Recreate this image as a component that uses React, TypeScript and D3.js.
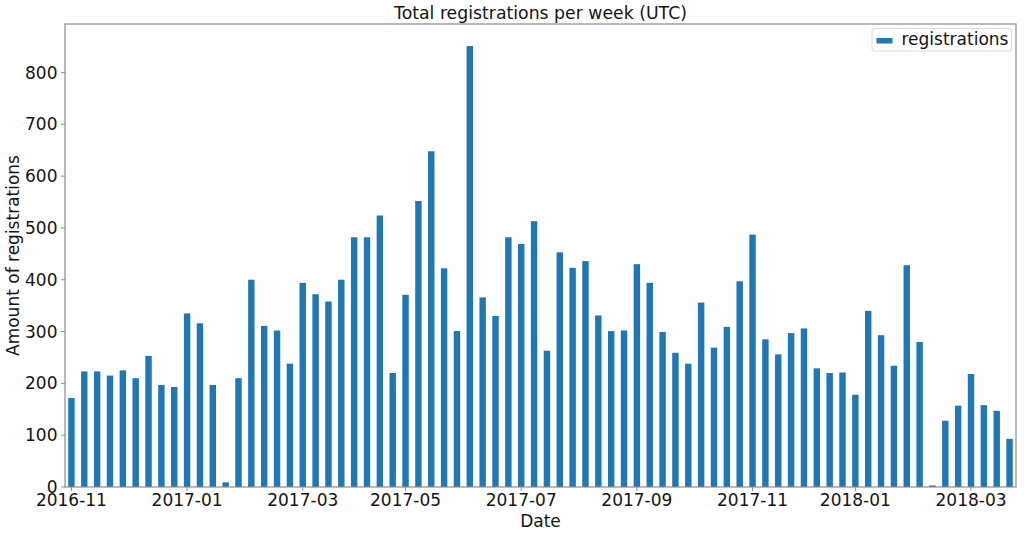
import React from "react";
import * as d3 from "d3";

const firstWeek = "2016-11-01";
const registrations = [
  172, 223, 223, 215, 225, 210, 253, 197, 193, 335, 316, 197, 9, 210, 400, 311,
  302, 238, 394, 372, 358, 400, 482, 482, 524, 220, 371, 552, 648, 422, 301, 851,
  366, 330, 482, 469, 513, 263, 453, 423, 436, 331, 301, 302, 430, 394, 299, 259,
  238, 356, 269, 309, 397, 487, 285, 256, 297, 306, 229, 220, 221, 178, 340, 293,
  234, 428, 280, 3, 128, 157, 218, 158, 147, 93,
];
const tickLabels = ["2016-11", "2017-01", "2017-03", "2017-05", "2017-07", "2017-09", "2017-11", "2018-01", "2018-03"];
const yTicks = [0, 100, 200, 300, 400, 500, 600, 700, 800];
const title = "Total registrations per week (UTC)";
const xLabel = "Date";
const yLabel = "Amount of registrations";
const seriesName = "registrations";

const W = 1024;
const H = 535;
const M = { left: 65, right: 1016, top: 24, bottom: 487 };
const FONT = "DejaVu Sans";
const BLUE = "#1f77b4";
const SPINE = "#8c8c8c";
const TXT = "#141414";

export default function App() {
  const start = d3.utcParse("%Y-%m-%d")(firstWeek) as Date;
  const weeks = registrations.map((_, i) => d3.utcDay.offset(start, 7 * i));
  const fmt = d3.utcFormat("%Y-%m");
  const idx = d3.range(registrations.length);

  const x = d3.scaleBand<number>().domain(idx).range([M.left, M.right]).paddingInner(0.5).paddingOuter(0.25);
  const y = d3.scaleLinear().domain([0, d3.max(registrations)! * 1.05]).range([M.bottom, M.top]);

  const ticks = tickLabels.map((lab) => {
    const i = weeks.findIndex((d) => fmt(d) === lab);
    return { lab, cx: x(i)! + x.bandwidth() / 2 };
  });

  return (
    <svg width={W} height={H} style={{ position: "absolute", left: 0, top: 0, background: "#fff" }} fontFamily={FONT}>
      <rect x={0} y={0} width={W} height={H} fill="#fff" />
      {registrations.map((v, i) => (
        <rect key={i} x={x(i)} y={y(v)} width={x.bandwidth()} height={y(0) - y(v)} fill={BLUE} />
      ))}
      <rect x={M.left} y={M.top} width={M.right - M.left} height={M.bottom - M.top} fill="none" stroke={SPINE} strokeWidth={1.2} />
      {yTicks.map((t) => (
        <g key={t}>
          <line x1={M.left - 4} x2={M.left} y1={y(t)} y2={y(t)} stroke={SPINE} strokeWidth={1} />
          <text x={M.left - 7.5} y={y(t)} dy="0.36em" textAnchor="end" fontSize={17} fill={TXT}>{t}</text>
        </g>
      ))}
      {ticks.map((t) => (
        <g key={t.lab}>
          <line x1={t.cx} x2={t.cx} y1={M.bottom} y2={M.bottom + 4} stroke={SPINE} strokeWidth={1} />
          <text x={t.cx} y={505.5} textAnchor="middle" fontSize={17} fill={TXT}>{t.lab}</text>
        </g>
      ))}
      <text x={(M.left + M.right) / 2} y={18.5} textAnchor="middle" fontSize={17.3} fill={TXT}>{title}</text>
      <text x={(M.left + M.right) / 2} y={526.5} textAnchor="middle" fontSize={17} fill={TXT}>{xLabel}</text>
      <text transform={`translate(19,${(M.top + M.bottom) / 2}) rotate(-90)`} textAnchor="middle" fontSize={17} fill={TXT}>{yLabel}</text>
      <g>
        <rect x={872} y={28.5} width={139.5} height={22.5} rx={2} fill="#fff" stroke="#dcdcdc" strokeWidth={1} />
        <rect x={876.5} y={38} width={16} height={5.5} fill={BLUE} />
        <text x={901.5} y={44.5} fontSize={17} fill={TXT}>{seriesName}</text>
      </g>
    </svg>
  );
}
